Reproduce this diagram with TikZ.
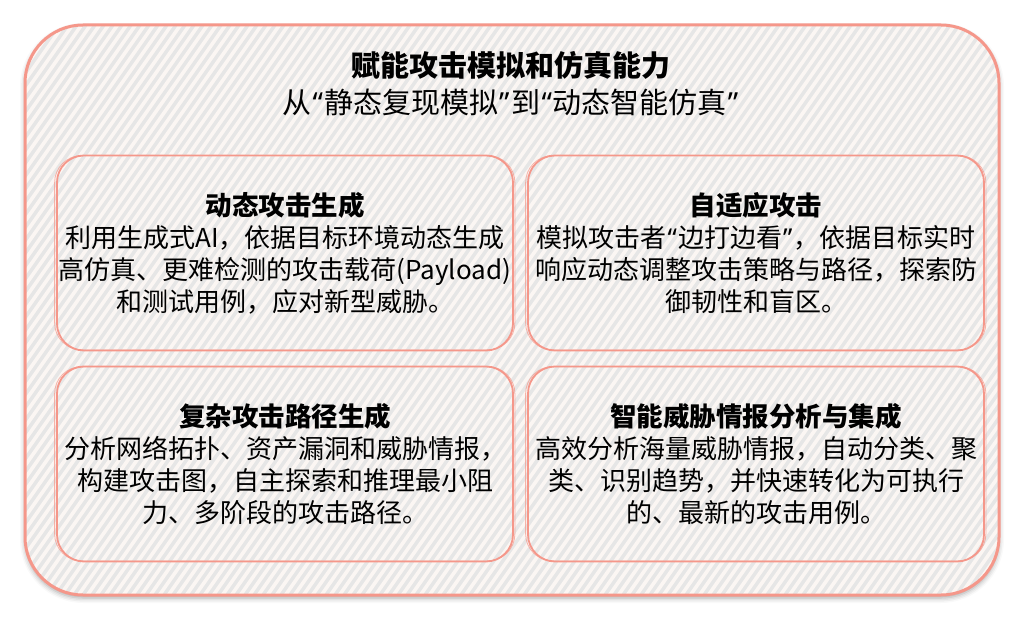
\documentclass[tikz,border=0pt]{standalone}
\usepackage{fontspec}
\setmainfont{Noto Sans CJK SC}
\newfontfamily\latinq{Noto Sans}
\newcommand{\qopen}{{\kern1.5pt\latinq “\kern1pt}}
\newcommand{\qclose}{{\kern1pt\latinq ”\kern1.5pt}}
\usetikzlibrary{shadows.blur}
\definecolor{salmon}{HTML}{F5978A}
\definecolor{hatchbg}{HTML}{E6E6E6}
\definecolor{hatchline}{HTML}{FBF6F3}
\tikzset{
  outerbox/.style={draw=salmon, line width=3pt, rounded corners=58pt},
  innerbox/.style={draw=salmon, line width=1.8pt, rounded corners=27pt, minimum width=456pt, minimum height=195pt, align=center, inner sep=0pt,
    font=\fontsize{26}{32}\selectfont},
  sketchline/.style={draw=salmon, line width=0.8pt, rounded corners=27pt, opacity=0.7},
  stripe/.style={hatchline, line width=3.6pt},
  headnode/.style={align=center, inner sep=0pt, font=\fontsize{29}{37}\selectfont}
}
\newcommand{\btitle}[1]{{\fontsize{26.5}{32}\selectfont\bfseries #1}}
\begin{document}
\begin{tikzpicture}[x=1pt,y=-1pt]
\useasboundingbox (0,0) rectangle (1028,623);
% outer container with shadow
\path[blur shadow={shadow xshift=0pt, shadow yshift=-3pt, shadow blur radius=5pt, shadow opacity=35}, fill=hatchbg, rounded corners=58pt] (25,25) rectangle (999,595);
\begin{scope}
  \clip[rounded corners=58pt] (25,25) rectangle (999,595);
  \fill[hatchbg] (25,25) rectangle (999,595);
  \foreach \x in {-420,-411,...,1010} {
    \draw[stripe] (\x,600) -- ++(420,-600);
  }
\end{scope}
\draw[outerbox] (25,25) rectangle (999,595);
% heading
\node[headnode] (head) at (511,84) {{\bfseries 赋能攻击模拟和仿真能力}\\从\qopen 静态复现模拟\qclose 到\qopen 动态智能仿真\qclose};
% four boxes
\node[innerbox] (b1) at (285,253) {\btitle{动态攻击生成}\\利用生成式AI，依据目标环境动态生成\\高仿真、更难检测的攻击载荷(Payload)\\和测试用例，应对新型威胁。};
\node[innerbox] (b2) at (756,253) {\btitle{自适应攻击}\\模拟攻击者\qopen 边打边看\qclose ，依据目标实时\\响应动态调整攻击策略与路径，探索防\\御韧性和盲区。};
\node[innerbox] (b3) at (285,464) {\btitle{复杂攻击路径生成}\\分析网络拓扑、资产漏洞和威胁情报，\\构建攻击图，自主探索和推理最小阻\\力、多阶段的攻击路径。};
\node[innerbox] (b4) at (756,464) {\btitle{智能威胁情报分析与集成}\\高效分析海量威胁情报，自动分类、聚\\类、识别趋势，并快速转化为可执行\\的、最新的攻击用例。};
% sketchy second strokes
\foreach \n in {b1,b2,b3,b4} {
  \draw[sketchline] ([shift={(-1.5pt,1.5pt)}]\n.south west) rectangle ([shift={(1pt,-1pt)}]\n.north east);
}
\end{tikzpicture}
\end{document}
